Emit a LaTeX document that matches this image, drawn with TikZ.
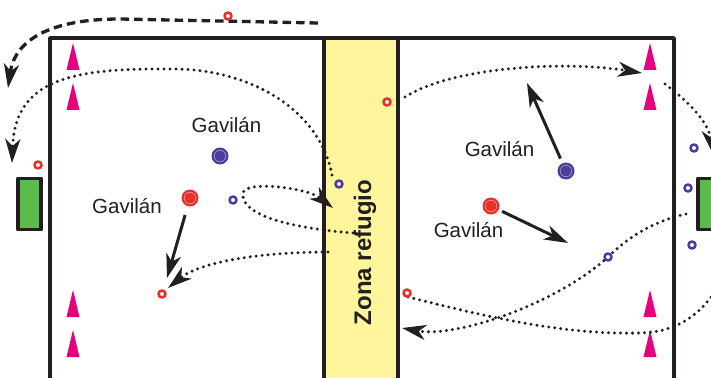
\documentclass[tikz,border=0pt]{standalone}
\usepackage{fontspec}
\setmainfont{Liberation Sans}
\usetikzlibrary{arrows.meta}
\definecolor{ink}{HTML}{231F20}
\definecolor{zoneyellow}{HTML}{FFF59D}
\definecolor{goalgreen}{HTML}{5DBB4C}
\definecolor{conemag}{HTML}{E6007E}
\definecolor{pred}{HTML}{E8312B}
\definecolor{pblue}{HTML}{4B3F9B}
\tikzset{
  court/.style={draw=ink, line width=3.8pt},
  zonebox/.style={draw=ink, fill=zoneyellow, line width=3.8pt},
  goalbox/.style={draw=ink, fill=goalgreen, line width=3.6pt, minimum height=51pt, inner sep=0pt},
  ring/.style={circle, fill=white, line width=2.6pt, minimum size=7pt, inner sep=0pt},
  redring/.style={ring, draw=pred},
  bluering/.style={ring, draw=pblue},
  player/.style={circle, minimum size=17pt, inner sep=0pt},
  redplayer/.style={player, fill=pred, path picture={\draw[pred!45!white, line width=0.5pt] (path picture bounding box.center) circle (5.8pt);}},
  blueplayer/.style={player, fill=pblue, path picture={\draw[pblue!45!white, line width=0.5pt] (path picture bounding box.center) circle (5.8pt);}},
  gavlabel/.style={anchor=base, text=ink, font=\fontsize{20.5}{24}\selectfont, inner sep=0pt},
  headtip/.style={-{Stealth[length=24pt, width=15pt, inset=7pt]}},
  dotpath/.style={draw=ink, line width=3.3pt, line cap=round, dash pattern=on 0pt off 6pt},
  dashpath/.style={draw=ink, line width=3.3pt, dash pattern=on 8.5pt off 5pt},
  runarrow/.style={draw=ink, line width=3pt, headtip},
  cone/.pic={\fill[conemag] (-6.5,13.5) -- (6.5,13.5) -- (0,-13.5) -- cycle;}
}
\begin{document}
\begin{tikzpicture}[x=1pt, y=-1pt, line join=round]
\useasboundingbox (0,0) rectangle (711,377);
\clip (0,0) rectangle (711,377);
\fill[white] (0,0) rectangle (711,377);

% court and refuge zone
\draw[court] (50,38) rectangle (674,430);
\draw[zonebox] (324,38) rectangle (398,430);
\node[rotate=90, text=ink, font=\bfseries\fontsize{24}{28}\selectfont, inner sep=0pt] (zonetext) at (365,252.5) {Zona refugio};

% goals
\node[goalbox, minimum width=23pt] (goalL) at (29.5,204) {};
\node[goalbox, minimum width=24pt] (goalR) at (710,204) {};

% cones
\pic at (73,56.5) {cone};
\pic at (73,96.5) {cone};
\pic at (73,303.5) {cone};
\pic at (73,343.5) {cone};
\pic at (650,56.5) {cone};
\pic at (650,96.5) {cone};
\pic at (650,303.5) {cone};
\pic at (650,343.5) {cone};

% positions of players
\coordinate (pR1) at (228,16);
\coordinate (pR2) at (38,165);
\coordinate (pB1) at (339,184);
\coordinate (pB2) at (233,200);
\coordinate (pR3) at (162,294);
\coordinate (pR4) at (387,102);
\coordinate (pR5) at (407,293);
\coordinate (pB3) at (608,257);
\coordinate (pB4) at (694,148);
\coordinate (pB5) at (688,188);
\coordinate (pB6) at (692,245);

% free ends of the runs
\coordinate (s1) at (318,23);
\coordinate (e1) at (8,88);
\coordinate (s2) at (332,175);
\coordinate (e2) at (12,163);
\coordinate (s3) at (353,233);
\coordinate (e3) at (333,208);
\coordinate (s4) at (328,252);
\coordinate (e4) at (168,288);
\coordinate (s6) at (405,97);
\coordinate (e6) at (642,73);
\coordinate (s7) at (665,84);
\coordinate (e7) at (713,154);
\coordinate (s10) at (686,214);
\coordinate (e10) at (402,328);
\coordinate (s11) at (408,297);
\coordinate (e11) at (728,268);

% dashed run
\draw[dashpath, headtip] (s1) -- (120,19) .. controls (50,19) and (15,40) .. (e1);

% dotted runs
\draw[dotpath, headtip] (s2) .. controls (320,110) and (250,68) .. (170,69) .. controls (70,68) and (15,80) .. (e2);
\draw[dotpath, headtip] (s3) .. controls (290,228) and (240,215) .. (243,193) .. controls (245,180) and (308,188) .. (e3);
\draw[dotpath, headtip] (s4) .. controls (260,252) and (200,262) .. (e4);
\draw[dotpath, headtip] (s6) .. controls (450,68) and (560,60) .. (e6);
\draw[dotpath, headtip] (s7) .. controls (690,103) and (708,122) .. (e7);
\draw[dotpath, headtip] (s10) .. controls (650,222) and (625,240) .. (pB3) .. controls (555,305) and (455,338) .. (e10);
\draw[dotpath] (s11) .. controls (480,315) and (560,335) .. (640,333) .. controls (680,332) and (708,312) .. (e11);

% small player rings
\node[redring] (rR1) at (pR1) {};
\node[redring] (rR2) at (pR2) {};
\node[bluering] (rB1) at (pB1) {};
\node[bluering] (rB2) at (pB2) {};
\node[redring] (rR3) at (pR3) {};
\node[redring] (rR4) at (pR4) {};
\node[redring] (rR5) at (pR5) {};
\node[bluering] (rB3) at (pB3) {};
\node[bluering] (rB4) at (pB4) {};
\node[bluering] (rB5) at (pB5) {};
\node[bluering] (rB6) at (pB6) {};

% hawks (gavilanes)
\node[blueplayer] (hB1) at (220,156) {};
\node[redplayer] (hR1) at (190,198) {};
\node[blueplayer] (hB2) at (566,171) {};
\node[redplayer] (hR2) at (491,206) {};

\coordinate (t1) at (167,278);
\coordinate (t2) at (527,83);
\coordinate (t3) at (568,243);
\draw[runarrow, shorten <=9pt] (hR1) -- (t1);
\draw[runarrow, shorten <=5pt] (hB2) -- (t2);
\draw[runarrow, shorten <=3.5pt] (hR2) -- (t3);

% labels
\node[gavlabel] (g1) at (226.5,132) {Gavilán};
\node[gavlabel] (g2) at (127,213) {Gavilán};
\node[gavlabel] (g3) at (499.5,156) {Gavilán};
\node[gavlabel] (g4) at (468.5,237) {Gavilán};
\end{tikzpicture}
\end{document}
